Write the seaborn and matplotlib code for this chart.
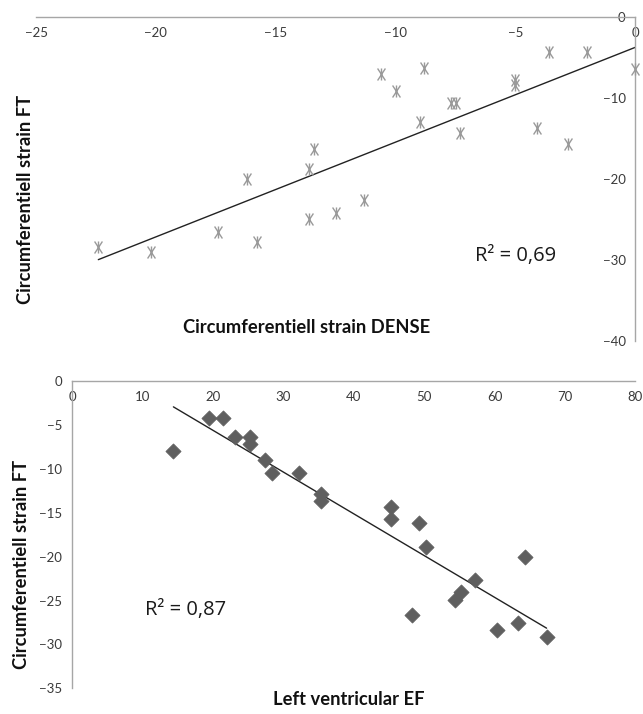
import numpy as np
import pandas as pd
import seaborn as sns
import matplotlib.pyplot as plt
from matplotlib.path import Path

# top panel: FT vs DENSE circumferential strain
dense_strain = [-22.4, -20.2, -17.4, -16.2, -15.8, -13.6, -13.4, -13.6, -12.5, -11.3,
                -10.6, -10.0, -8.8, -9.0, -7.7, -7.5, -7.3, -5.0, -5.0, -3.6,
                -4.1, -2.8, -2.0, 0.0]
ft_strain_a = [-28.4, -29.0, -26.5, -20.0, -27.7, -18.8, -16.3, -24.9, -24.2, -22.6,
               -7.0, -9.1, -6.3, -13.0, -10.6, -10.6, -14.3, -7.8, -8.4, -4.3,
               -13.7, -15.7, -4.3, -6.4]

# bottom panel: FT strain vs LV EF
lv_ef = [14.4, 19.4, 21.4, 23.2, 25.3, 25.3, 27.4, 28.4, 32.3, 35.4,
         35.4, 45.3, 45.3, 49.3, 50.3, 64.3, 57.2, 55.3, 54.4, 48.3,
         60.4, 63.3, 67.4]
ft_strain_b = [-7.9, -4.2, -4.2, -6.4, -6.3, -7.1, -9.0, -10.5, -10.5, -12.8,
               -13.7, -14.35, -15.75, -16.2, -18.9, -20.0, -22.6, -24.0, -24.9, -26.6,
               -28.3, -27.6, -29.2]

top_xticks = [-25, -20, -15, -10, -5, 0]
top_yticks = [0, -10, -20, -30, -40]
bot_xticks = [0, 10, 20, 30, 40, 50, 60, 70, 80]
bot_yticks = [0, -5, -10, -15, -20, -25, -30, -35]

df_a = pd.DataFrame({"dense": dense_strain, "ft": ft_strain_a})
df_b = pd.DataFrame({"ef": lv_ef, "ft": ft_strain_b})

sns.set_theme(style="white")
plt.rcParams['font.family'] = ['Lato', 'DejaVu Sans']

AXIS_COL = "#a6a6a6"
TICK_TXT = "#3a3a3a"

# excel-like asterisk: an X plus a vertical bar
asterisk = Path([(0, -1), (0, 1), (-0.65, -1), (0.65, 1), (-0.65, 1), (0.65, -1)],
                [Path.MOVETO, Path.LINETO, Path.MOVETO, Path.LINETO, Path.MOVETO, Path.LINETO])

fig = plt.figure(figsize=(6.43, 7.14), dpi=100)
ax1 = fig.add_axes([0.056, 0.522, 0.932, 0.454])
ax2 = fig.add_axes([0.112, 0.036, 0.876, 0.430])


def style_axis(ax):
    for s in ['top', 'right']:
        ax.spines[s].set_visible(False)
    ax.spines['bottom'].set_position(('data', 0))
    ax.spines['left'].set_position(('data', 0))
    for s in ['bottom', 'left']:
        ax.spines[s].set_color(AXIS_COL)
        ax.spines[s].set_linewidth(1.0)
    ax.tick_params(axis='both', direction='out', length=4, width=1,
                   color=AXIS_COL, labelcolor=TICK_TXT, labelsize=9.5, pad=3)
    ax.set_xlabel("")
    ax.set_ylabel("")


# --- top ---
sns.regplot(data=df_a, x="dense", y="ft", ax=ax1, scatter=False, ci=None,
            truncate=True, line_kws={"color": "#222222", "lw": 1.0})
ax1.scatter(df_a["dense"], df_a["ft"], marker=asterisk, s=75, color="#9a9a9a",
            linewidths=1.0, clip_on=False, zorder=3)
ax1.set_xlim(-25, 0)
ax1.set_ylim(-40, 0)
ax1.set_xticks(top_xticks)
ax1.set_yticks(top_yticks)
style_axis(ax1)

# --- bottom ---
sns.regplot(data=df_b, x="ef", y="ft", ax=ax2, scatter=False, ci=None,
            truncate=True, line_kws={"color": "#222222", "lw": 1.0})
sns.scatterplot(data=df_b, x="ef", y="ft", ax=ax2, marker="D", s=60,
                color="#5f5f5f", edgecolor="#5f5f5f", linewidth=0.5, zorder=3)
ax2.set_xlim(0, 80)
ax2.set_ylim(-35, 0)
ax2.set_xticks(bot_xticks)
ax2.set_yticks(bot_yticks)
style_axis(ax2)

# labels
lab = dict(fontsize=13.2, fontweight="bold", color="#111111")
fig.text(0.039, 0.720, "Circumferentiell strain FT", rotation=90, ha="center", va="center", **lab)
fig.text(0.477, 0.542, "Circumferentiell strain DENSE", ha="center", va="center", **lab)
fig.text(0.034, 0.209, "Circumferentiell strain FT", rotation=90, ha="center", va="center", **lab)
fig.text(0.543, 0.020, "Left ventricular EF", ha="center", va="center", **lab)

r2 = dict(ha="center", va="center", fontsize=14.5, color="#1a1a1a", family=["Open Sans", "DejaVu Sans"])
fig.text(0.802, 0.641, "R² = 0,69", **r2)
fig.text(0.288, 0.146, "R² = 0,87", **r2)

fig.savefig("out.png", dpi=100)
